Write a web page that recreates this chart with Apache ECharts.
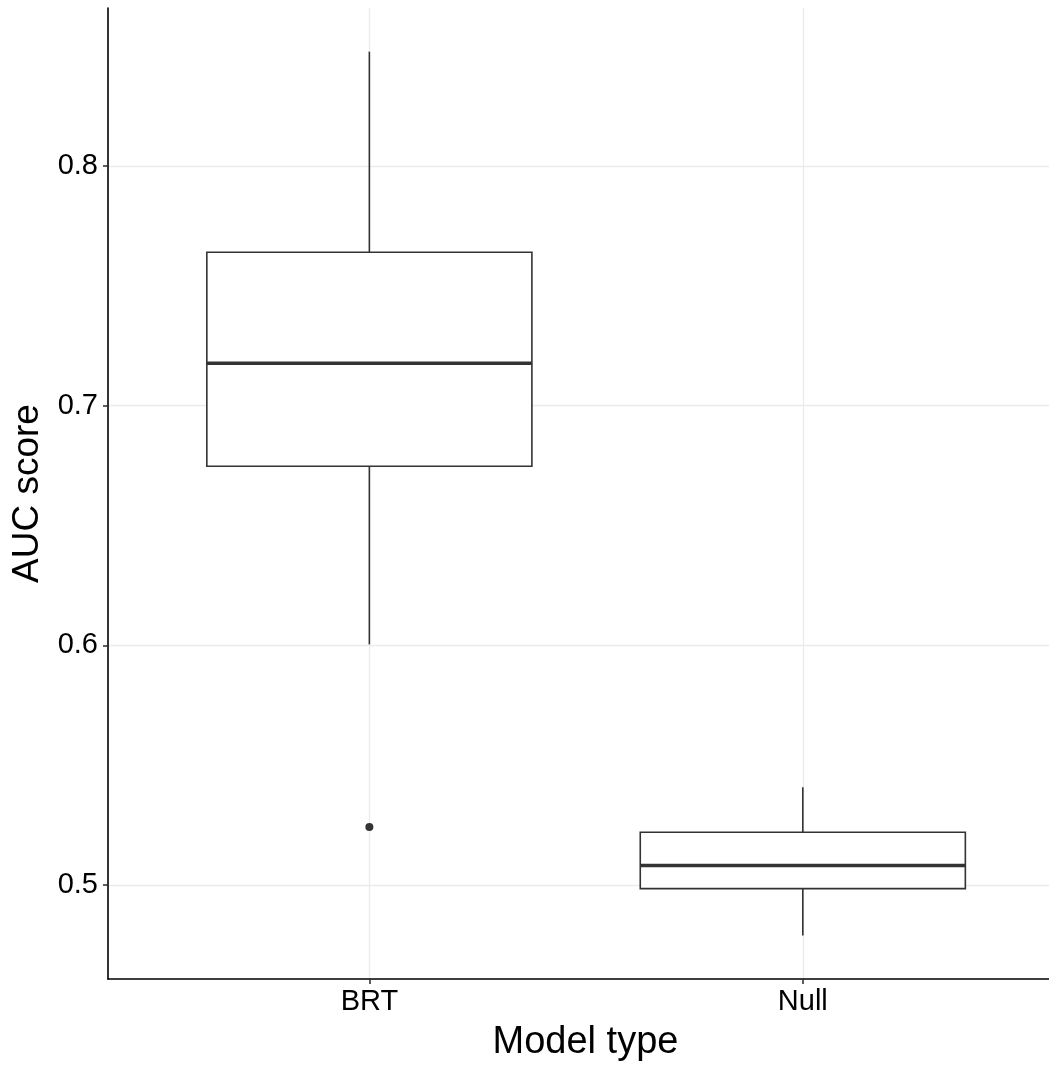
<!DOCTYPE html>
<html>
<head>
<meta charset="utf-8">
<script src="https://cdn.jsdelivr.net/npm/echarts@6/dist/echarts.min.js"></script>
<style>
html, body { margin: 0; padding: 0; background: #fff; }
#box { width: 1049px; height: 1065px; }
</style>
</head>
<body>
<div id="box"></div>
<script>
// data
var categories = ['BRT', 'Null'];
var catPos = [1, 2];
var lowWhisker = [0.6004, 0.479];
var q1 = [0.6747, 0.4985];
var median = [0.7177, 0.5082];
var q3 = [0.764, 0.522];
var highWhisker = [0.8477, 0.5408];
var outliers = [[1, 0.5242]];
var yTicks = [0.5, 0.6, 0.7, 0.8];

var boxWidth = 0.75;
var ink = '#333333';

var boxData = [];
for (var i = 0; i < categories.length; i++) {
    boxData.push([catPos[i], lowWhisker[i], q1[i], median[i], q3[i], highWhisker[i]]);
}

function renderBox(params, api) {
    var x = api.value(0);
    var half = api.size([boxWidth, 0])[0] / 2;
    var pLow = api.coord([x, api.value(1)]);
    var pQ1 = api.coord([x, api.value(2)]);
    var pMed = api.coord([x, api.value(3)]);
    var pQ3 = api.coord([x, api.value(4)]);
    var pHigh = api.coord([x, api.value(5)]);
    var thin = { stroke: ink, lineWidth: 1.6 };
    return {
        type: 'group',
        children: [
            { type: 'line', shape: { x1: pLow[0], y1: pLow[1], x2: pQ1[0], y2: pQ1[1] }, style: thin },
            { type: 'line', shape: { x1: pQ3[0], y1: pQ3[1], x2: pHigh[0], y2: pHigh[1] }, style: thin },
            { type: 'rect', shape: { x: pQ3[0] - half, y: pQ3[1], width: half * 2, height: pQ1[1] - pQ3[1] },
              style: { fill: '#fff', stroke: ink, lineWidth: 1.6 } },
            { type: 'line', shape: { x1: pMed[0] - half, y1: pMed[1], x2: pMed[0] + half, y2: pMed[1] },
              style: { stroke: ink, lineWidth: 3.5 } }
        ]
    };
}

var chart = echarts.init(document.getElementById('box'));
var option = {
    animation: false,
    textStyle: { fontFamily: 'Liberation Sans' },
    grid: { left: 108, top: 8, right: 0, height: 971, containLabel: false, outerBoundsMode: 'none' },
    xAxis: {
        type: 'value',
        // ggplot's discrete expansion runs past the right edge of the picture
        min: 0.397,
        max: 2.568,
        name: 'Model type',
        nameLocation: 'middle',
        nameGap: 45,
        nameTextStyle: { fontSize: 38, color: '#000', fontFamily: 'Liberation Sans', padding: [0, 0, 0, 14] },
        axisLine: { show: true, lineStyle: { color: '#000', width: 1.6 } },
        axisTick: { show: true, length: 5, customValues: catPos, lineStyle: { color: ink, width: 1.6 } },
        axisLabel: {
            customValues: catPos,
            margin: 8,
            fontSize: 29,
            color: '#000',
            formatter: function (v) { return categories[Math.round(v) - 1]; }
        },
        splitLine: { show: true, lineStyle: { color: '#ebebeb', width: 1.3 } }
    },
    yAxis: {
        type: 'value',
        min: 0.4608,
        max: 0.8659,
        name: 'AUC score',
        nameLocation: 'middle',
        nameGap: 51,
        nameTextStyle: { fontSize: 37, color: '#000', fontFamily: 'Liberation Sans' },
        axisLine: { show: true, lineStyle: { color: '#000', width: 1.6 } },
        axisTick: { show: true, length: 5, customValues: yTicks, lineStyle: { color: ink, width: 1.6 } },
        axisLabel: {
            customValues: yTicks,
            margin: 10,
            fontSize: 29,
            color: '#000',
            formatter: function (v) { return v.toFixed(1); }
        },
        splitLine: { show: true, lineStyle: { color: '#ebebeb', width: 1.3 } }
    },
    series: [
        {
            type: 'custom',
            renderItem: renderBox,
            encode: { x: 0, y: [1, 2, 3, 4, 5] },
            data: boxData
        },
        {
            type: 'scatter',
            symbol: 'circle',
            symbolSize: 8,
            itemStyle: { color: ink, opacity: 1 },
            data: outliers
        }
    ]
};
chart.setOption(option);
</script>
</body>
</html>
